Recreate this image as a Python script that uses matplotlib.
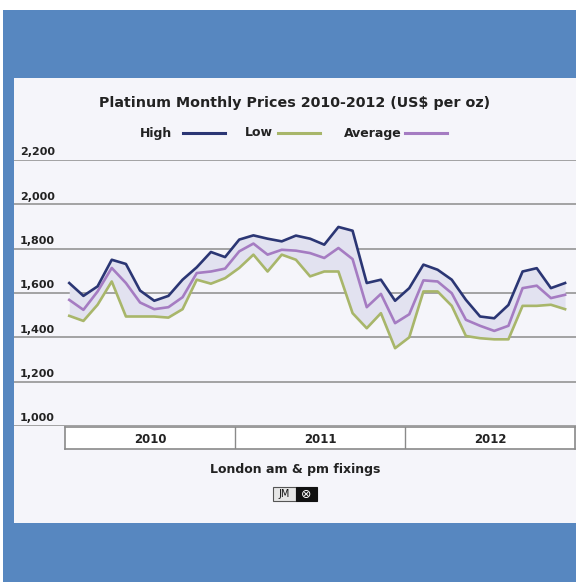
import numpy as np
import matplotlib
matplotlib.use("Agg")
import matplotlib.pyplot as plt
from matplotlib.patches import Rectangle

# monthly values Jan 2010 .. Dec 2012 (US$ per oz)
high = [1645, 1587, 1630, 1750, 1731, 1611, 1565, 1587, 1660, 1716, 1785, 1762,
        1841, 1860, 1845, 1833, 1859, 1845, 1818, 1898, 1881, 1645, 1660, 1565,
        1622, 1728, 1705, 1660, 1569, 1494, 1486, 1546, 1697, 1712, 1622, 1645]
low = [1497, 1474, 1547, 1652, 1494, 1494, 1494, 1489, 1527, 1660, 1642, 1667,
       1713, 1773, 1697, 1773, 1750, 1675, 1697, 1697, 1509, 1441, 1509, 1351,
       1400, 1607, 1607, 1542, 1406, 1396, 1391, 1391, 1542, 1542, 1547, 1527]
average = [1569, 1524, 1607, 1713, 1645, 1557, 1527, 1536, 1581, 1690, 1697, 1710,
           1788, 1823, 1773, 1795, 1791, 1780, 1758, 1803, 1753, 1536, 1596, 1464,
           1504, 1657, 1652, 1599, 1479, 1452, 1429, 1452, 1622, 1633, 1577, 1592]
years = ["2010", "2011", "2012"]
yticks = [1000, 1200, 1400, 1600, 1800, 2000, 2200]

W, H = 576, 582
BLUE = "#5787c0"
PANEL = "#f5f5fa"
C_HIGH = "#2b3674"
C_LOW = "#a8b66a"
C_AVG = "#a57cc2"
C_FILL = "#e2e2f0"
TXT = "#222222"


def fx(px):
    return px / W


def fy(py):
    return 1 - py / H


fig = plt.figure(figsize=(W / 100, H / 100), dpi=100, facecolor="white")
fig.patches.append(Rectangle((fx(3), 0), 1 - fx(3), fy(10), transform=fig.transFigure,
                             facecolor=BLUE, edgecolor="none", zorder=-3))
fig.patches.append(Rectangle((fx(14), fy(523)), 1 - fx(14), fy(78) - fy(523),
                             transform=fig.transFigure, facecolor=PANEL,
                             edgecolor="none", zorder=-2))

# main plot area: gridlines run from the panel edge, data from the year box
left, right = 14, 576
top, bottom = 160, 426
ax = fig.add_axes([fx(left), fy(bottom), fx(right) - fx(left), fy(top) - fy(bottom)])
ax.set_facecolor("none")
units = 36 / 510
ax.set_xlim(-(65 - left) * units, 36 + (right - 575) * units)
ax.set_ylim(1000, 2200)
for s in ax.spines.values():
    s.set_visible(False)
ax.set_xticks([])
ax.set_yticks([])
for v in yticks:
    ax.axhline(v, color="#9c9c9c", lw=1.3, zorder=1)
    ax.text(-(65 - 20) * units, v + 12, f"{v:,}", ha="left", va="bottom", fontsize=8,
            fontweight="bold", color=TXT)

x = np.arange(len(high)) + 0.3
ax.fill_between(x, low, high, color=C_FILL, zorder=2, lw=0)
ax.plot(x, low, color=C_LOW, lw=1.9, zorder=3)
ax.plot(x, average, color=C_AVG, lw=1.9, zorder=4)
ax.plot(x, high, color=C_HIGH, lw=1.9, zorder=5)

# year box under the chart
bx = fig.add_axes([fx(65), fy(449), fx(575) - fx(65), fy(427) - fy(449)])
bx.set_facecolor("white")
bx.set_xlim(0, len(years))
bx.set_ylim(0, 1)
bx.set_xticks([])
bx.set_yticks([])
for s in bx.spines.values():
    s.set_color("#8a8a8a")
    s.set_linewidth(1.2)
for i, yr in enumerate(years):
    if i > 0:
        bx.axvline(i, color="#8a8a8a", lw=1.0)
    bx.text(i + 0.5, 0.45, yr, ha="center", va="center", fontsize=8.5,
            fontweight="bold", color=TXT)

# title and legend
fig.text(fx(295), fy(103), "Platinum Monthly Prices 2010-2012 (US$ per oz)",
         ha="center", va="center", fontsize=10.3, fontweight="bold", color=TXT)
legend = [("High", C_HIGH, 140, 183), ("Low", C_LOW, 245, 278), ("Average", C_AVG, 344, 405)]
for name, col, tx, lx in legend:
    fig.text(fx(tx), fy(133), name, ha="left", va="center", fontsize=9,
             fontweight="bold", color=TXT)
    fig.add_artist(plt.Line2D([fx(lx), fx(lx + 42)], [fy(133), fy(133)],
                              color=col, lw=2.2))

fig.text(fx(295), fy(470), "London am & pm fixings", ha="center", va="center",
         fontsize=9, fontweight="bold", color=TXT)

# small JM logo
fig.patches.append(Rectangle((fx(273), fy(501)), fx(296) - fx(273), fy(487) - fy(501),
                             transform=fig.transFigure, facecolor="#e6e6e6",
                             edgecolor="#555555", lw=0.8))
fig.patches.append(Rectangle((fx(296), fy(501)), fx(317) - fx(296), fy(487) - fy(501),
                             transform=fig.transFigure, facecolor="#111111",
                             edgecolor="#111111", lw=0.8))
fig.text(fx(284.5), fy(494), "JM", ha="center", va="center", fontsize=7,
         color="#111111")
fig.text(fx(306.5), fy(494.3), "\u2297", ha="center", va="center", fontsize=9,
         color="white")

fig.savefig("out.png", dpi=100)
